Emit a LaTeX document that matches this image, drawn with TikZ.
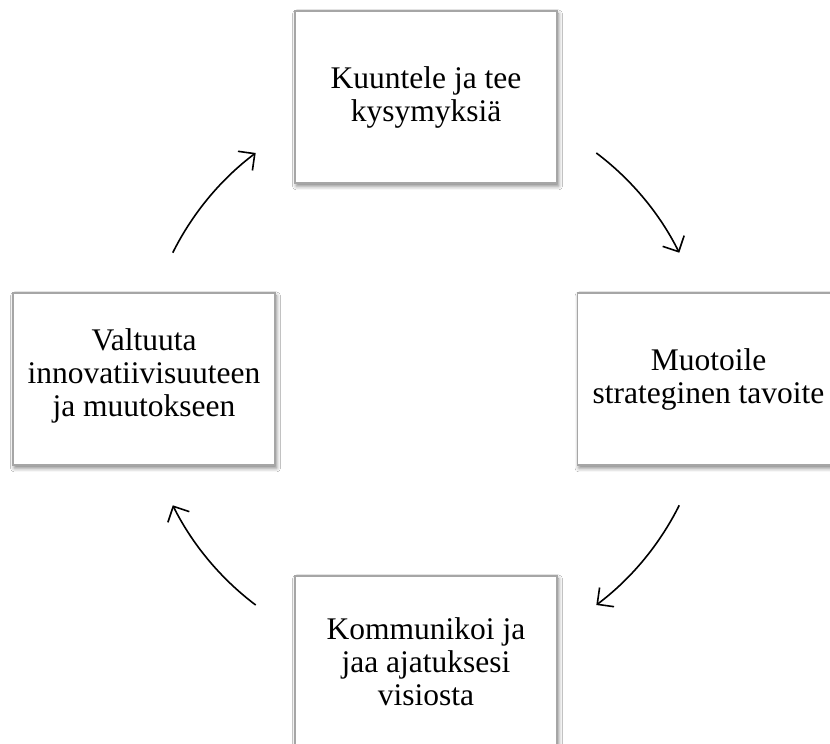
\documentclass[tikz,border=0pt]{standalone}
\usepackage{fontspec}
\setmainfont{Liberation Serif}
\usetikzlibrary{arrows.meta,shadows.blur,calc}

\begin{document}
\begin{tikzpicture}[x=1pt,y=1pt,
  stepbox/.style={draw=black!35, line width=1.2pt, fill=white,
    minimum width=262pt, minimum height=172pt, inner sep=0pt,
    align=center, font=\fontsize{31.5}{33}\selectfont,
    blur shadow={shadow xshift=1.5pt, shadow yshift=-3pt,
      shadow blur radius=4pt, shadow opacity=50}},
  cyclearrow/.style={line width=1.6pt,
    -{Straight Barb[length=12pt,width=24pt,line width=1.6pt]}}]
  \useasboundingbox (0,0) rectangle (830,744);
  \clip (0,0) rectangle (830,744);
  \fill[white] (0,0) rectangle (830,744);

  % four steps of the cycle
  \node[stepbox] (listen) at (426,647) {Kuuntele ja tee\\kysymyksiä};
  \node[stepbox] (goal)   at (708.5,365) {Muotoile\\strateginen tavoite};
  \node[stepbox] (share)  at (426,82) {Kommunikoi ja\\jaa ajatuksesi\\visiosta};
  \node[stepbox, text depth=12pt] (enable) at (144,365) {Valtuuta\\innovatiivisuuteen\\ja muutokseen};

  % circular arrows between the steps
  \coordinate (mid) at (426,365);
  \coordinate (a1) at ($(mid)+(53:283)$);
  \coordinate (a2) at ($(mid)+(-26.5:283)$);
  \coordinate (a3) at ($(mid)+(-127:283)$);
  \coordinate (a4) at ($(mid)+(153.5:283)$);
  \draw[cyclearrow] (a1) arc[start angle=53, end angle=26.5, radius=283];
  \draw[cyclearrow] (a2) arc[start angle=-26.5, end angle=-53, radius=283];
  \draw[cyclearrow] (a3) arc[start angle=-127, end angle=-153.5, radius=283];
  \draw[cyclearrow] (a4) arc[start angle=153.5, end angle=127, radius=283];
\end{tikzpicture}
\end{document}
